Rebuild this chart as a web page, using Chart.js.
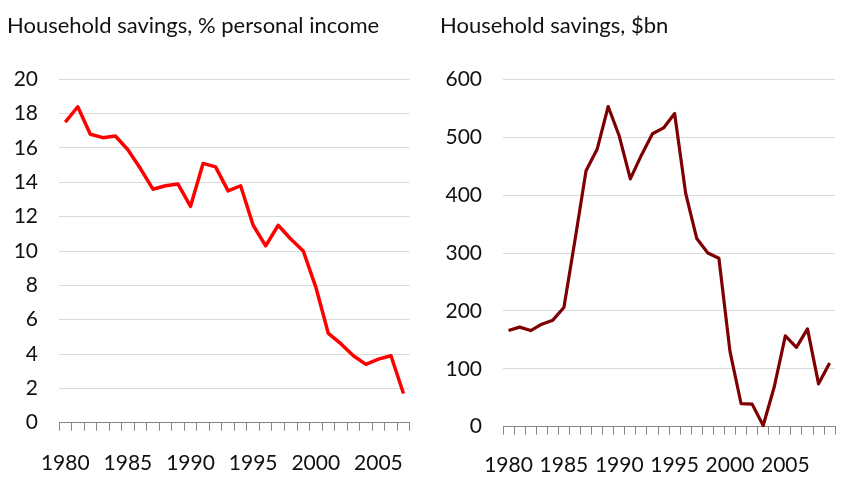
<!DOCTYPE html>
<html>
<head>
<meta charset="utf-8">
<script src="https://cdn.jsdelivr.net/npm/chart.js@4"></script>
<style>
  html, body { margin: 0; padding: 0; background: #ffffff; }
  #wrap { position: relative; width: 848px; height: 480px; overflow: hidden; }
  .cv { position: absolute; top: 0; }
</style>
</head>
<body>
<div id="wrap">
  <canvas id="left" class="cv" width="424" height="480" style="left:0px"></canvas>
  <canvas id="right" class="cv" width="424" height="480" style="left:424px"></canvas>
</div>
<script>
// ---- Data ----
const yearsPct = ['1980','1981','1982','1983','1984','1985','1986','1987','1988','1989',
                  '1990','1991','1992','1993','1994','1995','1996','1997','1998','1999',
                  '2000','2001','2002','2003','2004','2005','2006','2007'];
const savingsPct = [17.5, 18.4, 16.8, 16.6, 16.7, 15.9, 14.8, 13.6, 13.8, 13.9,
                    12.6, 15.1, 14.9, 13.5, 13.8, 11.5, 10.3, 11.5, 10.7, 10.0,
                    7.9, 5.2, 4.6, 3.9, 3.4, 3.7, 3.9, 1.7];

const yearsBn = ['1980','1981','1982','1983','1984','1985','1986','1987','1988','1989',
                 '1990','1991','1992','1993','1994','1995','1996','1997','1998','1999',
                 '2000','2001','2002','2003','2004','2005','2006','2007','2008','2009'];
const savingsBn = [166, 172, 166, 177, 184, 206, 322, 442, 479, 553,
                   502, 428, 469, 506, 516, 541, 403, 325, 300, 291,
                   130, 40, 39, 2, 69, 157, 137, 169, 74, 110];

const titlePct = 'Household savings, % personal income';
const titleBn = 'Household savings, $bn';
const pctTicks = { min: 0, max: 20, step: 2 };
const bnTicks = { min: 0, max: 600, step: 100 };

// ---- Styles ----
const FONT = 'Lato';
const FSIZE = 21;
const TSIZE = 22;
const TEXT = '#111111';
const GRID = '#d9d9d9';
const AXIS = '#868686';

function makeChart(id, labels, values, color, width, title, tk, L) {
  return new Chart(document.getElementById(id), {
    type: 'line',
    data: {
      labels: labels,
      datasets: [{
        data: values,
        borderColor: color,
        borderWidth: width,
        pointRadius: 0,
        tension: 0,
        fill: false,
        borderJoinStyle: 'round',
        clip: 4
      }]
    },
    options: {
      responsive: false,
      animation: false,
      devicePixelRatio: 1,
      layout: { padding: { left: L.padLeft, right: L.padRight, top: 0, bottom: 0 } },
      plugins: {
        legend: { display: false },
        tooltip: { enabled: false },
        title: {
          display: true,
          text: title,
          align: 'start',
          color: TEXT,
          font: { family: FONT, size: TSIZE, weight: 'normal', lineHeight: 1.2 },
          padding: { top: L.titleTop, bottom: L.titleBottom }
        }
      },
      scales: {
        x: {
          type: 'category',
          offset: true,
          grid: {
            display: true,
            offset: true,
            drawOnChartArea: false,
            drawTicks: true,
            tickLength: 8,
            color: AXIS,
            lineWidth: 1
          },
          border: { display: true, color: AXIS, width: 1 },
          ticks: {
            autoSkip: false,
            maxRotation: 0,
            minRotation: 0,
            padding: L.xPad,
            color: TEXT,
            font: { family: FONT, size: FSIZE },
            callback: function(v, i) {
              const y = labels[i];
              return (parseInt(y, 10) % 5 === 0) ? y : '';
            }
          },
          afterFit: function(scale) { scale.height = L.xHeight; }
        },
        y: {
          min: tk.min,
          max: tk.max,
          grid: { color: GRID, lineWidth: 1, drawTicks: false },
          border: { display: false },
          ticks: {
            stepSize: tk.step,
            padding: L.yPad,
            color: TEXT,
            font: { family: FONT, size: FSIZE }
          },
          afterFit: function(scale) { scale.width = L.yWidth; }
        }
      }
    }
  });
}

makeChart('left', yearsPct, savingsPct, '#ff0000', 3.5, titlePct, pctTicks, {
  padLeft: 7, padRight: 12, titleTop: 12.5, titleBottom: 40.4,
  xPad: 20.3, xHeight: 57.3, yPad: 21, yWidth: 52
});
makeChart('right', yearsBn, savingsBn, '#7f0000', 3.2, titleBn, bnTicks, {
  padLeft: 16, padRight: 4, titleTop: 12.5, titleBottom: 40.4,
  xPad: 18.3, xHeight: 53.3, yPad: 21, yWidth: 63
});
</script>
</body>
</html>
